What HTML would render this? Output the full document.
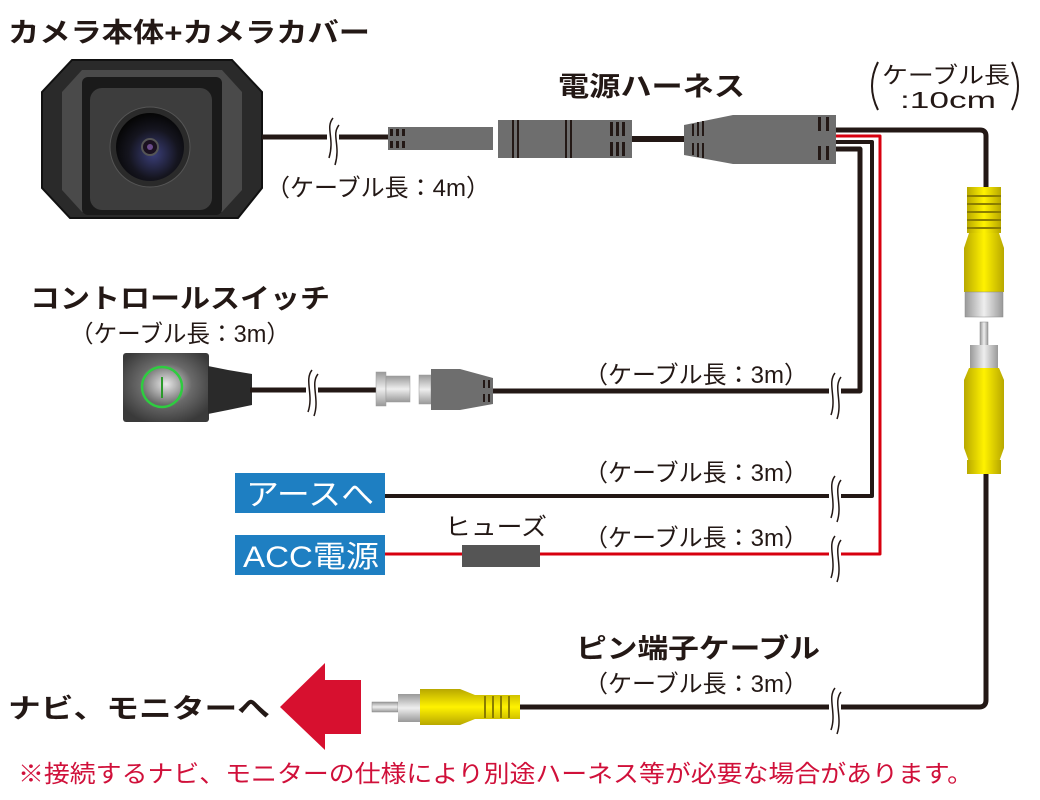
<!DOCTYPE html>
<html><head><meta charset="utf-8"><style>
html,body{margin:0;padding:0;background:#fff;width:1040px;height:800px;overflow:hidden}
svg{display:block}
text{font-family:"Liberation Sans","Noto Sans CJK JP",sans-serif}
.b{font-weight:bold;fill:#231815}
.n{fill:#231815}
</style></head><body>
<svg width="1040" height="800" viewBox="0 0 1040 800" xmlns="http://www.w3.org/2000/svg">
<defs>
<radialGradient id="lens" cx="0.55" cy="0.6" r="0.6"><stop offset="0" stop-color="#3b3f7a"/><stop offset="0.6" stop-color="#15151f"/><stop offset="1" stop-color="#050505"/></radialGradient>
<radialGradient id="sw" cx="0.5" cy="0.45" r="0.6"><stop offset="0" stop-color="#e8e8e8"/><stop offset="0.5" stop-color="#6a6a6a"/><stop offset="1" stop-color="#3a3a3a"/></radialGradient>
<linearGradient id="yel" x1="0" x2="1"><stop offset="0" stop-color="#b8a800"/><stop offset="0.5" stop-color="#fff200"/><stop offset="1" stop-color="#b8a800"/></linearGradient>
<linearGradient id="yelv" x1="0" y1="0" x2="0" y2="1"><stop offset="0" stop-color="#b8a800"/><stop offset="0.5" stop-color="#fff200"/><stop offset="1" stop-color="#b8a800"/></linearGradient>
<linearGradient id="gry" x1="0" x2="1"><stop offset="0" stop-color="#999"/><stop offset="0.5" stop-color="#eee"/><stop offset="1" stop-color="#999"/></linearGradient>
<linearGradient id="gryv" x1="0" y1="0" x2="0" y2="1"><stop offset="0" stop-color="#999"/><stop offset="0.5" stop-color="#eee"/><stop offset="1" stop-color="#999"/></linearGradient>
</defs>

<text x="8" y="42" class="b" font-size="27" textLength="362" lengthAdjust="spacingAndGlyphs">カメラ本体+カメラカバー</text>

<!-- camera -->
<polygon points="72,60 232,60 262,92 262,188 238,218 70,218 42,188 42,92" fill="#2a2a2a" stroke="#111" stroke-width="2"/>
<polygon points="82,70 222,70 242,92 242,190 222,212 82,212 62,190 62,92" fill="#4a4a4a"/>
<rect x="82" y="77" width="140" height="138" rx="6" fill="#1a1a1a"/>
<rect x="90" y="88" width="122" height="122" rx="12" fill="#3d3d3d"/>
<circle cx="150" cy="147" r="40" fill="#2a2a2a" stroke="#555" stroke-width="1"/>
<circle cx="150" cy="147" r="34" fill="url(#lens)"/>
<circle cx="150" cy="147" r="8" fill="#1a1020" stroke="#555" stroke-width="2"/>
<circle cx="150" cy="147" r="3" fill="#6a4a8a"/>

<line x1="262" y1="137" x2="390" y2="137" stroke="#231815" stroke-width="5"/>
<rect x="388" y="127" width="105" height="23" fill="#6e6e6e"/>
<g fill="#231815"><rect x="390" y="129" width="3" height="7"/><rect x="396" y="129" width="3" height="7"/><rect x="402" y="129" width="3" height="7"/><rect x="390" y="141" width="3" height="7"/><rect x="396" y="141" width="3" height="7"/><rect x="402" y="141" width="3" height="7"/></g>
<rect x="498" y="120" width="134" height="38" fill="#6e6e6e"/>
<g fill="#231815"><rect x="512" y="120" width="2" height="38"/><rect x="517" y="120" width="2" height="38"/><rect x="565" y="120" width="2" height="38"/><rect x="570" y="120" width="2" height="38"/>
<rect x="610" y="122" width="3" height="14"/><rect x="616" y="122" width="3" height="14"/><rect x="622" y="122" width="3" height="14"/><rect x="610" y="142" width="3" height="14"/><rect x="616" y="142" width="3" height="14"/><rect x="622" y="142" width="3" height="14"/></g>
<line x1="632" y1="139" x2="684" y2="139" stroke="#231815" stroke-width="6"/>
<polygon points="684,125 733,115 836,115 836,164 733,164 684,155" fill="#6e6e6e"/>
<g fill="#231815"><rect x="692" y="124" width="2" height="12"/><rect x="697" y="122" width="2" height="14"/><rect x="702" y="121" width="2" height="15"/><rect x="692" y="143" width="2" height="12"/><rect x="697" y="143" width="2" height="14"/><rect x="702" y="143" width="2" height="15"/>
<rect x="818" y="117" width="3" height="14"/><rect x="826" y="117" width="3" height="14"/><rect x="818" y="146" width="3" height="14"/><rect x="826" y="146" width="3" height="14"/></g>

<g fill="none" stroke-linejoin="round">
<path d="M836,130 H980 Q986,130 986,136 V190" stroke="#231815" stroke-width="5"/>
<path d="M836,136 H880 V554 H385" stroke="#d7000f" stroke-width="3"/>
<path d="M836,142 H872 V496 H385" stroke="#231815" stroke-width="4"/>
<path d="M836,149 H860 V391 H493" stroke="#231815" stroke-width="5"/>
<path d="M986,470 V700 Q986,707 979,707 H520" stroke="#231815" stroke-width="5"/>
</g>

<rect x="967" y="187" width="34" height="46" fill="url(#yel)"/>
<g fill="#8a7d00"><rect x="967" y="195" width="34" height="2"/><rect x="967" y="203" width="34" height="2"/><rect x="967" y="211" width="34" height="2"/><rect x="967" y="219" width="34" height="2"/><rect x="967" y="227" width="34" height="2"/></g>
<path d="M969,233 H999 L1004,248 V292 H964 V248 Z" fill="url(#yel)"/>
<rect x="965" y="292" width="38" height="25" fill="url(#gry)" stroke="#888" stroke-width="0.5"/>
<rect x="980" y="322" width="8" height="40" fill="url(#gry)" stroke="#888" stroke-width="0.5"/>
<rect x="970" y="345" width="28" height="25" fill="url(#gry)"/>
<path d="M969,368 H999 L1004,380 V448 L999,462 H969 L964,448 V380 Z" fill="url(#yel)"/>
<rect x="967" y="460" width="34" height="14" fill="url(#yel)"/>

<text x="30" y="308" class="b" font-size="27" textLength="300" lengthAdjust="spacingAndGlyphs">コントロールスイッチ</text>
<text x="70" y="342" class="n" font-size="24" textLength="220" lengthAdjust="spacingAndGlyphs">（ケーブル長：3m）</text>
<rect x="123" y="353" width="86" height="69" rx="3" fill="url(#sw)"/>
<circle cx="162" cy="387" r="20" fill="none" stroke="#2ecc40" stroke-width="2.5"/>
<line x1="162" y1="377" x2="162" y2="398" stroke="#2a9a2a" stroke-width="2"/>
<polygon points="208,366 228,370 252,374 252,405 228,410 208,414" fill="#2a2a2a"/>
<line x1="250" y1="390" x2="378" y2="390" stroke="#231815" stroke-width="5"/>
<rect x="376" y="372" width="10" height="34" fill="url(#gryv)" stroke="#999" stroke-width="0.5"/>
<rect x="386" y="376" width="24" height="26" fill="url(#gryv)" stroke="#999" stroke-width="0.5"/>
<rect x="419" y="375" width="12" height="29" fill="url(#gryv)" stroke="#999" stroke-width="0.5"/>
<polygon points="431,369 460,369 493,378 493,404 460,410 431,410" fill="#6e6e6e"/>
<g fill="#231815"><rect x="483" y="380" width="2" height="8"/><rect x="488" y="380" width="2" height="8"/><rect x="483" y="394" width="2" height="8"/><rect x="488" y="394" width="2" height="8"/></g>

<rect x="235" y="473" width="150" height="40" fill="#1e7fc2"/>
<text x="246" y="505" font-size="30" fill="#fff" textLength="128" lengthAdjust="spacingAndGlyphs">アースへ</text>
<rect x="235" y="535" width="150" height="40" fill="#1e7fc2"/>
<text x="243" y="567" font-size="30" fill="#fff" textLength="136" lengthAdjust="spacingAndGlyphs">ACC電源</text>
<text x="445" y="535" class="n" font-size="24" textLength="102" lengthAdjust="spacingAndGlyphs">ヒューズ</text>
<rect x="462" y="545" width="78" height="22" fill="#555"/>

<text x="558" y="96" class="b" font-size="27" textLength="187" lengthAdjust="spacingAndGlyphs">電源ハーネス</text>
<path d="M878,62 Q866,86 878,110 M1012,62 Q1024,86 1012,110" fill="none" stroke="#231815" stroke-width="2"/>
<text x="882" y="83" class="n" font-size="23" textLength="128" lengthAdjust="spacingAndGlyphs">ケーブル長</text>
<text x="900" y="108" class="n" font-size="23" textLength="96" lengthAdjust="spacingAndGlyphs">:10cm</text>
<text x="266" y="196" class="n" font-size="24" textLength="224" lengthAdjust="spacingAndGlyphs">（ケーブル長：4m）</text>
<text x="584" y="383" class="n" font-size="24" textLength="224" lengthAdjust="spacingAndGlyphs">（ケーブル長：3m）</text>
<text x="584" y="481" class="n" font-size="24" textLength="224" lengthAdjust="spacingAndGlyphs">（ケーブル長：3m）</text>
<text x="584" y="546" class="n" font-size="24" textLength="224" lengthAdjust="spacingAndGlyphs">（ケーブル長：3m）</text>
<text x="576" y="658" class="b" font-size="27" textLength="244" lengthAdjust="spacingAndGlyphs">ピン端子ケーブル</text>
<text x="584" y="692" class="n" font-size="24" textLength="224" lengthAdjust="spacingAndGlyphs">（ケーブル長：3m）</text>

<g fill="#fff" stroke="none">
<rect x="327" y="125" width="12" height="24"/>
<rect x="306" y="378" width="12" height="24"/>
<rect x="829" y="380" width="12" height="24"/>
<rect x="829" y="484" width="12" height="24"/>
<rect x="829" y="544" width="12" height="24"/>
<rect x="829" y="695" width="12" height="24"/>
</g>
<g fill="none" stroke="#231815" stroke-width="1.5">
<path d="M333,118 C325,128 335,138 329,158 M339,125 C331,135 341,145 335,165"/>
<path d="M312,370 C304,380 314,395 308,412 M318,374 C310,384 320,399 314,416"/>
<path d="M835,373 C827,383 837,398 831,415 M841,377 C833,387 843,402 837,419"/>
<path d="M835,476 C827,486 837,501 831,518 M841,480 C833,490 843,505 837,522"/>
<path d="M835,536 C827,546 837,561 831,578 M841,540 C833,550 843,565 837,582"/>
<path d="M835,688 C827,698 837,713 831,730 M841,692 C833,702 843,717 837,734"/>
</g>

<text x="8" y="718" class="b" font-size="27" textLength="262" lengthAdjust="spacingAndGlyphs">ナビ、モニターへ</text>
<polygon points="280,707 325,663 325,680 361,680 361,734 325,734 325,750" fill="#d7102f"/>
<rect x="372" y="702" width="26" height="10" fill="url(#gryv)" stroke="#888" stroke-width="0.5"/>
<rect x="398" y="694" width="22" height="28" fill="url(#gryv)"/>
<path d="M420,689 H460 L475,695 H520 V719 H475 L460,725 H420 Z" fill="url(#yelv)"/>
<g fill="#8a7d00"><rect x="484" y="696" width="2" height="22"/><rect x="492" y="696" width="2" height="22"/><rect x="500" y="696" width="2" height="22"/><rect x="508" y="696" width="2" height="22"/></g>

<text x="18" y="782" font-size="24" fill="#d0103a" textLength="955" lengthAdjust="spacingAndGlyphs">※接続するナビ、モニターの仕様により別途ハーネス等が必要な場合があります。</text>
</svg>
</body></html>
